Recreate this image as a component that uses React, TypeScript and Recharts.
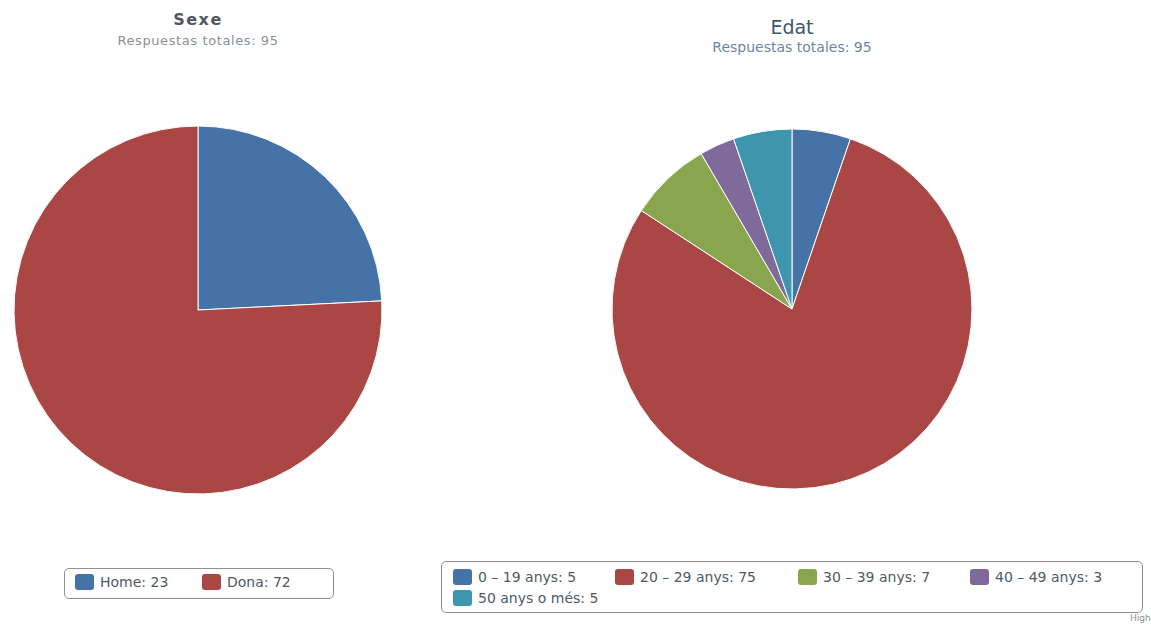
import { Cell, Pie, PieChart } from "recharts";

// Highcharts-like default palette
const COLORS = ["#4572A7", "#AA4643", "#89A54E", "#80699B", "#3D96AE"];

const sexeLabels = ["Home", "Dona"];
const sexeValues = [23, 72];

const edatLabels = [
  "0 – 19 anys",
  "20 – 29 anys",
  "30 – 39 anys",
  "40 – 49 anys",
  "50 anys o més",
];
const edatValues = [5, 75, 7, 3, 5];

const sexeData = sexeLabels.map((name, i) => ({ name, value: sexeValues[i] }));
const edatData = edatLabels.map((name, i) => ({ name, value: edatValues[i] }));

const FONT = '"DejaVu Sans", Verdana, sans-serif';

function LegendItem({ color, label, left, top }: { color: string; label: string; left: number; top: number }) {
  return (
    <div style={{ position: "absolute", left, top, display: "flex", alignItems: "center", whiteSpace: "nowrap" }}>
      <span
        style={{ display: "inline-block", width: 19, height: 16, borderRadius: 3, backgroundColor: color, marginRight: 6 }}
      />
      <span style={{ fontSize: 14, color: "#4d5a66" }}>{label}</span>
    </div>
  );
}

export default function App() {
  // legend item positions (x offset from legend box, row)
  const edatPos = [
    { x: 11, y: 7 },
    { x: 173, y: 7 },
    { x: 356, y: 7 },
    { x: 528, y: 7 },
    { x: 11, y: 28 },
  ];
  return (
    <div style={{ position: "absolute", left: 0, top: 0, width: 1151, height: 626, background: "#fff", fontFamily: FONT, overflow: "hidden" }}>
      <PieChart
        width={1151}
        height={626}
        margin={{ top: 0, right: 0, bottom: 0, left: 0 }}
        style={{ position: "absolute", left: 0, top: 0 }}
      >
        <Pie
          data={sexeData}
          dataKey="value"
          nameKey="name"
          cx={198}
          cy={310}
          outerRadius={184}
          startAngle={90}
          endAngle={-270}
          stroke="#ffffff"
          strokeWidth={1}
          isAnimationActive={false}
        >
          {sexeData.map((d, i) => (
            <Cell key={d.name} fill={COLORS[i]} />
          ))}
        </Pie>
        <Pie
          data={edatData}
          dataKey="value"
          nameKey="name"
          cx={792}
          cy={309}
          outerRadius={180}
          startAngle={90}
          endAngle={-270}
          stroke="#ffffff"
          strokeWidth={1}
          isAnimationActive={false}
        >
          {edatData.map((d, i) => (
            <Cell key={d.name} fill={COLORS[i]} />
          ))}
        </Pie>
      </PieChart>

      {/* titles */}
      <div style={{ position: "absolute", left: 98, width: 200, top: 10, textAlign: "center", fontSize: 16, fontWeight: "bold", color: "#50575e", letterSpacing: 1.5 }}>
        Sexe
      </div>
      <div style={{ position: "absolute", left: 48, width: 300, top: 33, textAlign: "center", fontSize: 13, color: "#8a9096", letterSpacing: 0.6 }}>
        Respuestas totales: 95
      </div>
      <div style={{ position: "absolute", left: 692, width: 200, top: 16, textAlign: "center", fontSize: 19, color: "#3E576F" }}>
        Edat
      </div>
      <div style={{ position: "absolute", left: 642, width: 300, top: 39, textAlign: "center", fontSize: 14, color: "#6D869F" }}>
        Respuestas totales: 95
      </div>

      {/* left legend */}
      <div style={{ position: "absolute", left: 64, top: 568, width: 268, height: 29, border: "1px solid #909090", borderRadius: 5 }}>
        {sexeData.map((d, i) => (
          <LegendItem key={d.name} color={COLORS[i]} label={`${d.name}: ${d.value}`} left={i === 0 ? 10 : 137} top={5} />
        ))}
      </div>

      {/* right legend */}
      <div style={{ position: "absolute", left: 441, top: 561, width: 700, height: 50, border: "1px solid #909090", borderRadius: 5 }}>
        {edatData.map((d, i) => (
          <LegendItem key={d.name} color={COLORS[i]} label={`${d.name}: ${d.value}`} left={edatPos[i].x} top={edatPos[i].y} />
        ))}
      </div>

      <div style={{ position: "absolute", left: 1130, top: 613, fontSize: 9, color: "#909090", whiteSpace: "nowrap" }}>
        Highcharts.com
      </div>
    </div>
  );
}
